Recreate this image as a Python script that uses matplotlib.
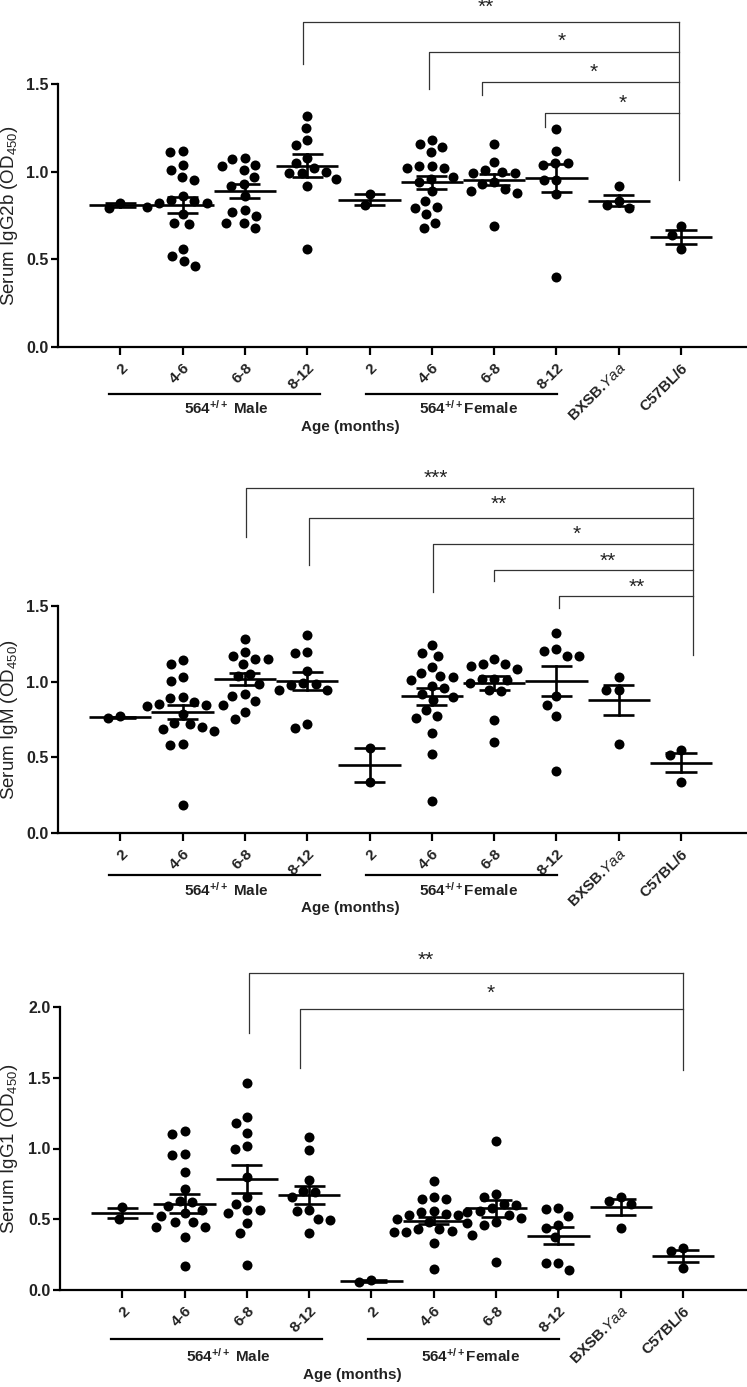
import numpy as np
import matplotlib
matplotlib.use('Agg')
import matplotlib.pyplot as plt
from matplotlib.transforms import blended_transform_factory

plt.rcParams['font.family'] = ['Liberation Sans', 'DejaVu Sans']
plt.rcParams['mathtext.fontset'] = 'custom'
plt.rcParams['mathtext.rm'] = 'Liberation Sans'
plt.rcParams['mathtext.it'] = 'Liberation Sans:italic'
plt.rcParams['mathtext.bf'] = 'Liberation Sans:bold'

# ---------------- data ----------------
categories = ['2', '4-6', '6-8', '8-12', '2', '4-6', '6-8', '8-12',
              r'BXSB.$\mathit{Yaa}$', 'C57BL/6']
group_labels = [r'564$^{\mathbf{+/+}}$ Male', r'564$^{\mathbf{+/+}}$Female']
xlabel_text = 'Age (months)'

igg2b_values = [
    [0.79, 0.82],
    [1.11, 1.12, 1.01, 1.04, 0.97, 0.95, 0.86, 0.83, 0.82, 0.80, 0.82, 0.84, 0.76, 0.70, 0.71, 0.52, 0.56, 0.49, 0.46],
    [1.04, 1.07, 1.08, 1.03, 1.01, 0.97, 0.93, 0.92, 0.86, 0.78, 0.77, 0.75, 0.71, 0.68, 0.71],
    [1.32, 1.25, 1.18, 1.15, 1.08, 1.05, 1.02, 0.99, 0.99, 0.96, 0.92, 0.56, 1.00],
    [0.81, 0.875],
    [1.16, 1.11, 1.14, 1.18, 1.02, 1.03, 1.02, 1.03, 0.97, 0.94, 0.96, 0.89, 0.83, 0.79, 0.76, 0.80, 0.71, 0.68],
    [1.055, 0.93, 0.99, 0.995, 1.0, 1.01, 0.94, 0.89, 0.88, 0.90, 1.16, 0.69],
    [1.245, 1.12, 1.05, 1.05, 1.04, 0.955, 0.955, 0.875, 0.40],
    [0.92, 0.83, 0.79, 0.81],
    [0.69, 0.64, 0.56],
]
igg2b_means = [0.81, 0.81, 0.89, 1.035, 0.84, 0.94, 0.955, 0.965, 0.835, 0.627]
igg2b_sems = [0.01, 0.045, 0.04, 0.063, 0.032, 0.038, 0.033, 0.08, 0.03, 0.04]
igg2b_stars = ['**', '*', '*', '*']

igm_values = [
    [0.76, 0.77],
    [1.115, 1.145, 1.031, 1.004, 0.855, 0.837, 0.899, 0.894, 0.844, 0.866, 0.789, 0.729, 0.70, 0.672, 0.689, 0.722, 0.586, 0.579, 0.183],
    [1.284, 1.17, 1.148, 1.115, 1.152, 1.196, 1.048, 1.035, 0.987, 0.916, 0.872, 0.903, 0.848, 0.80, 0.751],
    [1.311, 1.196, 1.192, 1.068, 0.982, 0.947, 0.943, 0.976, 0.991, 0.696, 0.722],
    [0.56, 0.34],
    [1.24, 1.19, 1.17, 1.10, 1.06, 1.03, 1.01, 1.04, 0.96, 0.97, 0.88, 0.90, 0.92, 0.81, 0.77, 0.76, 0.66, 0.52, 0.21],
    [1.152, 1.101, 1.115, 1.119, 1.086, 1.013, 1.02, 1.02, 0.991, 0.938, 0.947, 0.749, 0.601],
    [1.324, 1.218, 1.172, 1.167, 1.2, 0.905, 0.848, 0.771, 0.407],
    [1.031, 0.947, 0.943, 0.59],
    [0.546, 0.513, 0.337],
]
igm_means = [0.764, 0.80, 1.015, 1.005, 0.447, 0.903, 0.99, 1.002, 0.877, 0.465]
igm_sems = [0.005, 0.046, 0.04, 0.06, 0.112, 0.058, 0.046, 0.099, 0.099, 0.065]
igm_stars = ['***', '**', '*', '**', '**']

igg1_values = [
    [0.50, 0.585],
    [1.106, 1.122, 0.96, 0.953, 0.831, 0.711, 0.619, 0.565, 0.522, 0.541, 0.593, 0.631, 0.478, 0.442, 0.442, 0.482, 0.372, 0.169],
    [1.466, 1.224, 1.181, 1.111, 1.016, 0.993, 0.80, 0.654, 0.565, 0.541, 0.565, 0.607, 0.475, 0.40, 0.176],
    [1.08, 0.99, 0.775, 0.70, 0.66, 0.69, 0.565, 0.555, 0.50, 0.495, 0.40],
    [0.06, 0.07],
    [0.77, 0.64, 0.64, 0.66, 0.54, 0.53, 0.53, 0.55, 0.56, 0.48, 0.50, 0.47, 0.43, 0.41, 0.39, 0.41, 0.42, 0.43, 0.33, 0.15],
    [1.05, 0.66, 0.68, 0.58, 0.53, 0.60, 0.61, 0.51, 0.55, 0.48, 0.46, 0.20, 0.56],
    [0.58, 0.525, 0.57, 0.44, 0.46, 0.375, 0.19, 0.14, 0.19],
    [0.63, 0.66, 0.61, 0.44],
    [0.30, 0.276, 0.153],
]
igg1_means = [0.546, 0.61, 0.784, 0.671, 0.065, 0.49, 0.577, 0.384, 0.589, 0.24]
igg1_sems = [0.036, 0.068, 0.097, 0.065, 0.006, 0.025, 0.059, 0.062, 0.057, 0.044]
igg1_stars = ['**', '*']

# ---------------- layout / style ----------------
W, H = 747, 1387
fig = plt.figure(figsize=(W / 100, H / 100), dpi=100)

# bracket geometry: (x_left, x_right, y_top, y_drop, text_x, text_y)
geom1 = [(3.93, 9.97, 1.854, 1.614, 6.87, 1.935),
         (5.95, 9.97, 1.683, 1.472, 8.09, 1.745),
         (6.80, 9.97, 1.512, 1.438, 8.60, 1.565),
         (7.82, 9.97, 1.335, 1.255, 9.07, 1.392)]
vline1 = (9.97, 1.854, 0.953)
geom2 = [(3.02, 10.19, 2.28, 1.956, 6.07, 2.345),
         (4.03, 10.19, 2.08, 1.77, 7.08, 2.17),
         (6.02, 10.19, 1.91, 1.593, 8.33, 1.975),
         (7.00, 10.19, 1.74, 1.666, 8.83, 1.795),
         (8.04, 10.19, 1.566, 1.487, 9.29, 1.625)]
vline2 = (10.19, 2.28, 1.176)
geom3 = [(3.03, 10.0, 2.24, 1.816, 5.87, 2.33),
         (3.86, 10.0, 1.986, 1.569, 6.92, 2.10)]
vline3 = (10.0, 2.24, 1.555)

panels = [
    dict(left=58, ybot=347, ytop=84, ymax=1.5, ticks=[0.0, 0.5, 1.0, 1.5],
         ylabel=r'Serum IgG2b (OD$_{450}$)', values=igg2b_values, means=igg2b_means,
         sems=igg2b_sems, stars=igg2b_stars, geom=geom1, vline=vline1,
         line_px=47, glab_px=61, age_px=80),
    dict(left=58, ybot=833, ytop=606, ymax=1.5, ticks=[0.0, 0.5, 1.0, 1.5],
         ylabel=r'Serum IgM (OD$_{450}$)', values=igm_values, means=igm_means,
         sems=igm_sems, stars=igm_stars, geom=geom2, vline=vline2,
         line_px=42, glab_px=57, age_px=75),
    dict(left=60, ybot=1290, ytop=1007, ymax=2.0, ticks=[0.0, 0.5, 1.0, 1.5, 2.0],
         ylabel=r'Serum IgG1 (OD$_{450}$)', values=igg1_values, means=igg1_means,
         sems=igg1_sems, stars=igg1_stars, geom=geom3, vline=vline3,
         line_px=49, glab_px=66, age_px=85),
]

spacing_px = 62.3
dot_d_px = 10.0
min_dist_px = 12.3


def swarm_offsets(vals, sx, sy):
    ys = np.asarray(vals, dtype=float) * sy
    order = np.argsort(-ys)
    placed = []
    offs = np.zeros(len(ys))
    cand = sorted(np.arange(-80, 80.01, 0.5), key=lambda c: (abs(c), c))
    for i in order:
        y = ys[i]
        for c in cand:
            ok = True
            for (px, py) in placed:
                if (c - px) ** 2 + (y - py) ** 2 < min_dist_px ** 2:
                    ok = False
                    break
            if ok:
                offs[i] = c
                placed.append((c, y))
                break
    return offs / sx


for p in panels:
    left = p['left']
    ah = p['ybot'] - p['ytop']
    ax = fig.add_axes([left / W, 1 - p['ybot'] / H, (W - left) / W, ah / H])
    xmax = (W - left) / spacing_px
    ax.set_xlim(0, xmax)
    ax.set_ylim(0, p['ymax'])
    sx = spacing_px
    sy = ah / p['ymax']

    xs = np.arange(1, len(categories) + 1)
    for xi, vals, m, s in zip(xs, p['values'], p['means'], p['sems']):
        offs = swarm_offsets(vals, sx, sy)
        ax.scatter(xi + offs, vals, s=(dot_d_px * 0.72) ** 2, color='black',
                   zorder=3, clip_on=False, linewidths=0)
        ax.plot([xi - 0.5, xi + 0.5], [m, m], color='black', lw=1.9,
                zorder=4, solid_capstyle='butt')
        ax.plot([xi, xi], [m - s, m + s], color='black', lw=1.9, zorder=4)
        for yy in (m - s, m + s):
            ax.plot([xi - 0.25, xi + 0.25], [yy, yy], color='black', lw=1.9,
                    zorder=4, solid_capstyle='butt')

    # axes styling
    for side in ('top', 'right'):
        ax.spines[side].set_visible(False)
    for side in ('left', 'bottom'):
        ax.spines[side].set_linewidth(1.6)
    ax.set_yticks(p['ticks'])
    ax.set_yticklabels(['%.1f' % t for t in p['ticks']], fontsize=11.5,
                       fontweight='bold', color='#222222')
    ax.tick_params(axis='y', length=5, width=1.6, pad=2)
    ax.set_xticks(xs)
    ax.set_xticklabels(categories, rotation=45, ha='right',
                       rotation_mode='anchor', fontsize=11,
                       fontweight='bold', color='#222222')
    ax.tick_params(axis='x', length=6, width=1.6, pad=4)
    ax.set_ylabel(p['ylabel'], fontsize=13.5, color='#222222')
    ax.yaxis.set_label_coords((20 - left) / (W - left), 0.5)

    # group lines and labels under x axis
    tr = blended_transform_factory(ax.transData, ax.transAxes)
    ly = -p['line_px'] / ah
    ax.plot([0.82, 4.21], [ly, ly], transform=tr, color='black', lw=1.6,
            clip_on=False)
    ax.plot([4.95, 8.01], [ly, ly], transform=tr, color='black', lw=1.6,
            clip_on=False)
    gy = -p['glab_px'] / ah
    ax.text(2.70, gy, group_labels[0], transform=tr, ha='center', va='center',
            fontsize=11, fontweight='bold', color='#222222')
    ax.text(6.59, gy, group_labels[1], transform=tr, ha='center', va='center',
            fontsize=11, fontweight='bold', color='#222222')
    ay = -p['age_px'] / ah
    ax.text(4.70, ay, xlabel_text, transform=tr, ha='center', va='center',
            fontsize=11, fontweight='bold', color='#222222')

    # significance brackets
    bc = '#333333'
    for (xl, xr, yt, yd, tx, ty), lab in zip(p['geom'], p['stars']):
        ax.plot([xl, xl, xr], [yd, yt, yt], color=bc, lw=0.9, clip_on=False)
        ax.text(tx, ty, lab, ha='center', va='center', fontsize=15,
                color='#222222', clip_on=False)
    vx, vt, vb = p['vline']
    ax.plot([vx, vx], [vt, vb], color=bc, lw=0.9, clip_on=False)

fig.savefig('out.png', dpi=100)
